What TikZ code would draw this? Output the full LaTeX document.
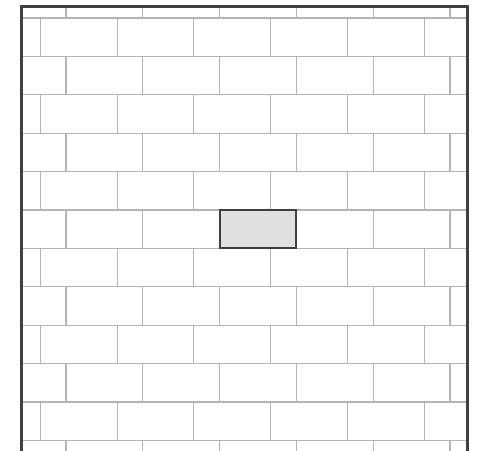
\documentclass[tikz,border=0pt]{standalone}
\usepackage{tikz}
\usetikzlibrary{positioning,calc}

\definecolor{mortargray}{RGB}{180,180,180}
\definecolor{framegray}{RGB}{64,64,64}
\definecolor{brickfill}{RGB}{224,224,224}

\tikzset{
  mortar/.style={mortargray,line width=0.85pt},
  wallframe/.style={framegray,line width=2.2pt,line join=miter},
  hilite/.style={draw=framegray,fill=brickfill,line width=1.6pt,
    minimum width=2cm,minimum height=1cm,inner sep=0pt}
}

\begin{document}
\begin{tikzpicture}
  \useasboundingbox (0,0) rectangle (12.578,11.719);
  \begin{scope}
    \clip (0.56,0) rectangle (12.174,11.549);
    % mortar joints
    \foreach \k in {0,...,11}
      \draw[mortar] (0,11.25-\k) -- (12.6,11.25-\k);
    \foreach \r in {-1,...,11}{
      \pgfmathsetmacro{\off}{ifthenelse(mod(\r+2,2)==1,1.719,1.05)}
      \foreach \j in {0,...,5}
        \draw[mortar] (\off+2*\j,11.25-\r) -- ++(0,-1);
    }
  \end{scope}
  \node[hilite] (gap) at (6.719,5.75) {};
  \draw[wallframe] (0.56,-0.2) -- (0.56,11.549) -- (12.174,11.549) -- (12.174,-0.2);
\end{tikzpicture}
\end{document}
